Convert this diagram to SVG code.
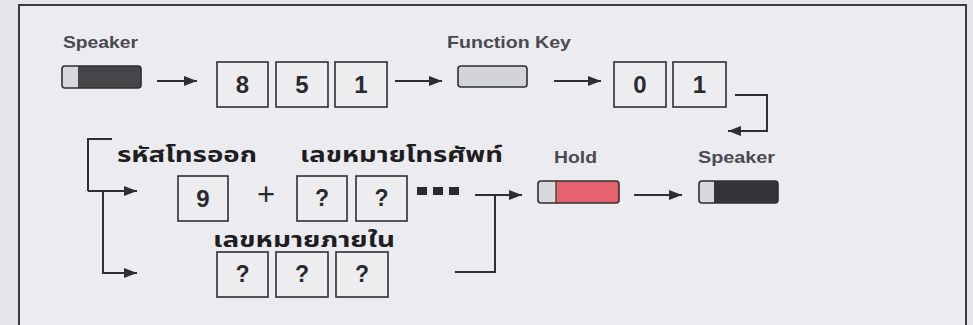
<svg xmlns="http://www.w3.org/2000/svg" width="973" height="325" viewBox="0 0 973 325">
<defs>
<marker id="ah" markerUnits="userSpaceOnUse" markerWidth="14" markerHeight="12" refX="13" refY="6" orient="auto">
<path d="M0,1 L13,6 L0,11 Z" fill="#2e2e33"/>
</marker>
<style>
.box{fill:#ededf0;stroke:#2e2e33;stroke-width:1.6}
.dig{font-family:"Liberation Sans",Arial,sans-serif;font-weight:bold;font-size:24px;fill:#2a2a2e;text-anchor:middle}
.q{font-family:"Liberation Sans",Arial,sans-serif;font-weight:bold;font-size:23px;fill:#2a2a2e;text-anchor:middle}
.lbl{font-family:"Liberation Sans",Arial,sans-serif;font-weight:bold;font-size:17px;fill:#4a4a50}
.th{font-family:"Noto Sans Thai","Loma","Garuda","Tlwg Typo","DejaVu Sans",sans-serif;font-weight:bold;font-size:21px;fill:#1e1e22}
.ln{fill:none;stroke:#2e2e33;stroke-width:2}
.arr{fill:none;stroke:#2e2e33;stroke-width:2;marker-end:url(#ah)}
.bar{fill:none;stroke:#2e2e33;stroke-width:1.6}
</style>
</defs>
<rect x="0" y="0" width="973" height="325" fill="#e6e6ea"/>
<rect x="19" y="5" width="947" height="340" fill="#ececf0" stroke="#3a3a44" stroke-width="2"/>

<g id="speaker1">
<text class="lbl" x="63" y="48" textLength="75" lengthAdjust="spacingAndGlyphs" fill="#555">Speaker</text>
<rect x="62" y="66" width="79" height="22" rx="3" fill="#d6d8db"/>
<path d="M78,66 H138 a3,3 0 0 1 3,3 V85 a3,3 0 0 1 -3,3 H78 Z" fill="#464648"/>
<rect class="bar" x="62" y="66" width="79" height="22" rx="3"/>
</g>

<g id="box8"><rect class="box" x="217" y="62" width="51" height="45"/><text class="dig" x="242.5" y="93">8</text></g>
<g id="box5"><rect class="box" x="276" y="62" width="52" height="45"/><text class="dig" x="302" y="93">5</text></g>
<g id="box1"><rect class="box" x="335" y="62" width="52" height="45"/><text class="dig" x="361" y="93">1</text></g>

<g id="funckey">
<text class="lbl" x="447" y="48" textLength="124" lengthAdjust="spacingAndGlyphs">Function Key</text>
<rect x="458" y="66" width="69" height="21" rx="3" fill="#d2d4d7" stroke="#2e2e33" stroke-width="1.6"/>
</g>

<g id="box0"><rect class="box" x="614" y="62" width="52" height="45"/><text class="dig" x="640" y="93">0</text></g>
<g id="box1b"><rect class="box" x="673" y="62" width="53" height="45"/><text class="dig" x="699.5" y="93">1</text></g>

<g id="label-out"><text class="th" x="117" y="162" textLength="140" lengthAdjust="spacingAndGlyphs">รหัสโทรออก</text></g>
<g id="label-tel"><text class="th" x="300" y="162" textLength="203" lengthAdjust="spacingAndGlyphs">เลขหมายโทรศัพท์</text></g>

<g id="box9"><rect class="box" x="178" y="176" width="50" height="45"/><text class="dig" x="203" y="207">9</text></g>
<g id="plus"><text x="266" y="205" font-family="'Liberation Sans',Arial,sans-serif" font-size="31" fill="#2a2a2e" text-anchor="middle">+</text></g>
<g id="boxq1"><rect class="box" x="297" y="176" width="50" height="45"/><text class="q" x="322" y="206">?</text></g>
<g id="boxq2"><rect class="box" x="356" y="176" width="51" height="45"/><text class="q" x="381.5" y="206">?</text></g>
<g id="dots" fill="#2a2a2e">
<rect x="417" y="187" width="10" height="8"/>
<rect x="433" y="187" width="10" height="8"/>
<rect x="449" y="187" width="10" height="8"/>
</g>

<g id="label-int"><text class="th" x="213" y="247" textLength="182" lengthAdjust="spacingAndGlyphs">เลขหมายภายใน</text></g>
<g id="boxi1"><rect class="box" x="217" y="252" width="51" height="45"/><text class="q" x="242.5" y="282">?</text></g>
<g id="boxi2"><rect class="box" x="276" y="252" width="52" height="45"/><text class="q" x="302" y="282">?</text></g>
<g id="boxi3"><rect class="box" x="336" y="252" width="52" height="45"/><text class="q" x="362" y="282">?</text></g>

<g id="hold">
<text class="lbl" x="554" y="163" textLength="43" lengthAdjust="spacingAndGlyphs">Hold</text>
<rect x="538" y="181" width="81" height="22" rx="3" fill="#d6d8db"/>
<path d="M556,181 H616 a3,3 0 0 1 3,3 V200 a3,3 0 0 1 -3,3 H556 Z" fill="#e4636e"/>
<path d="M556,181 V203" stroke="#2e2e33" stroke-width="1.2"/>
<rect class="bar" x="538" y="181" width="81" height="22" rx="3"/>
</g>

<g id="speaker2">
<text class="lbl" x="698" y="163" textLength="77" lengthAdjust="spacingAndGlyphs">Speaker</text>
<rect x="699" y="181" width="79" height="22" rx="3" fill="#d6d8db"/>
<path d="M714,181 H775 a3,3 0 0 1 3,3 V200 a3,3 0 0 1 -3,3 H714 Z" fill="#333336"/>
<rect class="bar" x="699" y="181" width="79" height="22" rx="3"/>
</g>

<g id="connectors">
<path class="arr" d="M157,81 H197"/>
<path class="arr" d="M395,81 H442"/>
<path class="arr" d="M554,81 H601"/>
<path class="arr" d="M735,95 H767 V131 H728"/>
<path class="ln" d="M112,139 H88 V191"/>
<path class="arr" d="M88,191 H137"/>
<path class="arr" d="M103,191 V273 H137"/>
<path class="arr" d="M475,195 H522"/>
<path class="ln" d="M455,272 H495 V195"/>
<path class="arr" d="M634,195 H682"/>
</g>
</svg>
